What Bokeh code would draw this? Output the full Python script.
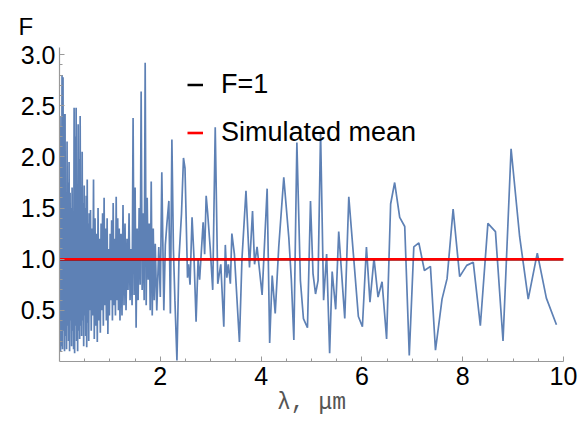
from bokeh.plotting import figure
from bokeh.models import (FixedTicker, NumeralTickFormatter, Legend, LegendItem, Range1d)
from bokeh.embed import file_html
from bokeh.resources import INLINE

# ---- data: dense short-wavelength part (lambda in um, F) ----
lam_a = [0.00, 0.01, 0.02, 0.03, 0.04, 0.05, 0.06, 0.07, 0.08, 0.09,
         0.10, 0.11, 0.12, 0.13, 0.14, 0.15, 0.16, 0.17, 0.18, 0.19,
         0.20, 0.21, 0.22, 0.23, 0.24, 0.25, 0.26, 0.27, 0.28, 0.29,
         0.30, 0.31, 0.32, 0.33, 0.34, 0.35, 0.36, 0.37, 0.38, 0.39,
         0.40, 0.41, 0.42, 0.43, 0.44, 0.45, 0.46, 0.47, 0.48, 0.49,
         0.50, 0.51, 0.52, 0.53, 0.54, 0.55, 0.56, 0.57, 0.58, 0.59, 0.60]
f_a = [1.20, 2.40, 0.10, 2.30, 0.15, 2.80, 0.12, 2.78, 0.30, 2.42,
       0.10, 2.42, 0.25, 1.60, 0.12, 2.15, 0.35, 1.75, 0.20, 1.95,
       0.10, 1.65, 0.40, 1.50, 0.15, 1.70, 0.30, 1.40, 0.12, 2.48,
       0.08, 2.20, 0.35, 2.48, 0.20, 1.60, 0.10, 2.32, 0.30, 1.98,
       0.22, 2.40, 0.35, 1.70, 0.25, 2.05, 0.40, 1.55, 0.15, 1.72,
       0.45, 1.50, 0.25, 1.62, 0.14, 1.78, 0.38, 1.35, 0.20, 1.45, 0.50]

lam_b = [0.615, 0.630, 0.645, 0.660, 0.675, 0.690, 0.705, 0.720, 0.735, 0.750,
         0.765, 0.780, 0.795, 0.810, 0.825, 0.840, 0.855, 0.870, 0.885, 0.900,
         0.915, 0.930, 0.945, 0.960, 0.975, 0.990, 1.005, 1.020, 1.035, 1.050,
         1.065, 1.080, 1.095, 1.110, 1.125, 1.140, 1.155, 1.170, 1.185, 1.200]
f_b = [1.48, 0.30, 1.30, 0.45, 1.78, 0.22, 1.40, 0.35, 1.25, 0.19,
       1.50, 0.40, 1.20, 0.28, 1.35, 0.50, 1.45, 0.35, 1.60, 0.55,
       1.30, 0.40, 1.40, 0.27, 1.10, 0.45, 1.25, 0.60, 1.38, 0.40,
       1.55, 0.55, 1.20, 0.45, 1.61, 0.60, 1.40, 0.50, 1.30, 0.40]

lam_c = [1.22, 1.24, 1.26, 1.28, 1.30, 1.32, 1.34, 1.36, 1.38, 1.40,
         1.42, 1.44, 1.46, 1.48, 1.50, 1.52, 1.54, 1.56, 1.58, 1.60,
         1.62, 1.64, 1.66, 1.68, 1.70, 1.72, 1.74, 1.76, 1.78, 1.80,
         1.82, 1.84, 1.86, 1.88]
f_c = [1.25, 0.45, 1.53, 0.55, 1.35, 0.50, 1.20, 0.70, 1.45, 0.60,
       1.10, 0.55, 2.38, 0.65, 1.70, 0.33, 1.30, 0.60, 1.50, 0.75,
       2.64, 0.70, 1.45, 0.60, 2.92, 0.55, 1.60, 0.80, 1.35, 0.50,
       1.76, 0.45, 1.30, 0.60]

# ---- data: sparser long-wavelength part ----
lam_d = [1.90, 1.93, 1.97, 2.00, 2.03, 2.07, 2.10, 2.13, 2.17, 2.20,
         2.23, 2.26, 2.29, 2.33, 2.37, 2.42, 2.46, 2.49, 2.54, 2.56,
         2.59, 2.63, 2.67, 2.71, 2.75, 2.78, 2.85, 2.88, 2.91, 2.94,
         2.99, 3.04, 3.09, 3.14, 3.20, 3.26, 3.29, 3.32, 3.35, 3.39,
         3.42, 3.47, 3.57, 3.62, 3.70, 3.77, 3.83, 3.87, 3.92, 4.02,
         4.12, 4.17, 4.22, 4.28, 4.35, 4.45, 4.55, 4.60, 4.65, 4.71,
         4.78, 4.84, 4.92, 4.98, 5.03, 5.08, 5.13, 5.18, 5.24, 5.30,
         5.36, 5.41, 5.48, 5.54, 5.66, 5.74, 5.93, 6.01, 6.09, 6.16,
         6.24, 6.32, 6.40, 6.49, 6.57, 6.65, 6.75, 6.85, 6.94, 7.03,
         7.13, 7.24, 7.36, 7.46, 7.59, 7.69, 7.81, 7.94, 8.08, 8.21,
         8.35, 8.50, 8.65, 8.80, 8.96, 9.13, 9.30, 9.48, 9.66, 9.86]
f_d = [1.15, 0.50, 1.12, 0.63, 1.85, 0.50, 1.14, 1.34, 1.57, 0.47,
       2.17, 1.10, 0.60, 0.01, 1.00, 1.44, 1.99, 1.89, 0.82, 0.95,
       0.75, 1.41, 1.00, 0.39, 1.00, 0.80, 1.36, 1.05, 1.62, 1.45,
       1.11, 0.70, 2.29, 0.76, 0.95, 0.34, 1.14, 0.82, 0.95, 0.76,
       1.25, 1.05, 0.19, 1.00, 1.67, 0.92, 1.47, 0.95, 1.12, 0.65,
       1.69, 0.18, 0.84, 0.47, 1.12, 1.80, 1.21, 0.80, 0.21, 2.14,
       0.79, 0.42, 0.33, 1.57, 0.86, 0.66, 0.79, 2.25, 0.60, 1.05,
       0.08, 0.88, 0.51, 1.27, 0.42, 1.61, 0.44, 0.34, 1.12, 0.58,
       1.01, 0.63, 0.78, 0.22, 1.54, 1.75, 1.41, 1.32, 0.06, 1.12,
       1.16, 0.89, 0.93, 0.11, 0.61, 0.81, 1.49, 0.83, 0.94, 0.97,
       0.35, 1.35, 1.27, 0.20, 2.08, 1.22, 0.61, 1.06, 0.62, 0.36]

f_one = 1.0          # reference level F = 1
sim_mean = 1.0       # simulated mean of F

x_ticks = [2, 4, 6, 8, 10]
y_ticks = [0.5, 1.0, 1.5, 2.0, 2.5, 3.0]

lam = lam_a + lam_b + lam_c + lam_d
F = f_a + f_b + f_c + f_d

FONT = "Liberation Sans"

p = figure(width=582, height=422, output_backend="svg", toolbar_location=None,
           x_range=Range1d(0, 10), y_range=Range1d(0, 3.07),
           min_border_left=59, min_border_right=19, min_border_top=47, min_border_bottom=61,
           title="F")
p.outline_line_color = None
p.xgrid.grid_line_color = None
p.ygrid.grid_line_color = None
p.background_fill_color = "white"

p.title.text_font = FONT
p.title.text_font_size = "24px"
p.title.text_font_style = "normal"
p.title.text_color = "black"
p.title.align = "left"
p.title.offset = -41
p.title.standoff = 16

main = p.line(lam, F, line_color="#5E81B5", line_width=1.7)
r_one = p.line([p.x_range.start, p.x_range.end], [f_one, f_one], line_color="black", line_width=2.5)
r_mean = p.line([p.x_range.start, p.x_range.end], [sim_mean, sim_mean], line_color="red", line_width=2.6)

# axes
minor_x = [v / 2 for v in range(1, 20) if v % 4 != 0]
minor_y = [v / 10 for v in range(1, 31) if v % 5 != 0]
p.xaxis.ticker = FixedTicker(ticks=x_ticks, minor_ticks=minor_x)
p.yaxis.ticker = FixedTicker(ticks=y_ticks, minor_ticks=minor_y)
p.xaxis.formatter = NumeralTickFormatter(format="0")
p.yaxis.formatter = NumeralTickFormatter(format="0.0")
for ax in (p.xaxis, p.yaxis):
    ax.axis_line_color = "#999999"
    ax.axis_line_width = 1.2
    ax.major_tick_line_color = "#999999"
    ax.minor_tick_line_color = "#999999"
    ax.major_tick_in = 5
    ax.major_tick_out = 0
    ax.minor_tick_in = 3
    ax.minor_tick_out = 0
    ax.major_label_text_font = FONT
    ax.major_label_text_font_size = "25px"
    ax.major_label_text_color = "black"
p.xaxis.major_label_standoff = 5
p.yaxis.major_label_standoff = 4

p.xaxis.axis_label = "λ, μm"
p.xaxis.axis_label_text_font = "Liberation Mono"
p.xaxis.axis_label_text_font_size = "23px"
p.xaxis.axis_label_text_font_style = "normal"
p.xaxis.axis_label_text_color = "#555555"
p.xaxis.axis_label_standoff = 2

legend = Legend(items=[LegendItem(label="F=1", renderers=[r_one]),
                       LegendItem(label="Simulated mean", renderers=[r_mean])],
                location=(128, 213), padding=0, margin=0, spacing=17,
                glyph_width=16, glyph_height=31, label_height=31, label_standoff=18,
                label_text_font=FONT, label_text_font_size="27px", label_text_color="black",
                background_fill_alpha=0, border_line_alpha=0)
p.add_layout(legend)

open("out.html", "w").write(file_html(p, INLINE))
